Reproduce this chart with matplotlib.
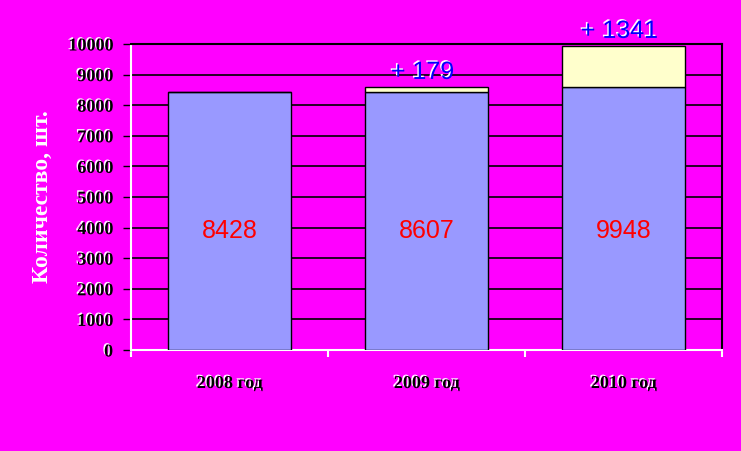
import matplotlib
matplotlib.use('Agg')
import matplotlib.pyplot as plt
import matplotlib.patheffects as pe
import numpy as np

# данные
years = ["2008 год", "2009 год", "2010 год"]
base = [8428, 8428, 8607]
added = [0, 179, 1341]
totals = [8428, 8607, 9948]
added_labels = ["", "+ 179", "+ 1341"]
yticks = [0, 1000, 2000, 3000, 4000, 5000, 6000, 7000, 8000, 9000, 10000]

bg = '#FF00FF'
fig = plt.figure(figsize=(7.41, 4.51), dpi=100, facecolor=bg)
ax = fig.add_axes([131 / 741, 101 / 451, 591 / 741, 306 / 451], facecolor=bg)

x = np.arange(len(years))
ax.bar(x, base, width=0.625, color='#9999FF', edgecolor='black', linewidth=1, zorder=3)
ax.bar(x, added, width=0.625, bottom=base, color='#FFFFCC', edgecolor='black',
       linewidth=1, zorder=3)

ax.set_xlim(-0.5, 2.5)
ax.set_ylim(0, 10000)
ax.set_yticks(yticks)
ax.yaxis.grid(True, color='black', linewidth=1.2, zorder=1)

shadow = [pe.withSimplePatchShadow(offset=(-1, 1), shadow_rgbFace='white', alpha=1.0)]

# подписи в столбцах
for i, v in enumerate(totals):
    ax.text(i, 3900, str(v), ha='center', va='center', color='#FF0000',
            fontsize=18, family='Liberation Sans', zorder=5)
for i, s in enumerate(added_labels):
    if s:
        ax.text(i - 0.02, totals[i] + 480, s, ha='center', va='center', color='#0000FF',
                fontsize=18, family='Liberation Sans', zorder=5, path_effects=shadow)

ax.set_xticks(x)
ax.set_xticklabels(years)
ax.set_xticks([-0.5, 0.5, 1.5, 2.5], minor=True)
ax.tick_params(axis='x', which='major', length=0, pad=18)
ax.tick_params(axis='x', which='minor', length=5, color='white', width=1.5)
ax.tick_params(axis='y', length=6, color='black', width=1, pad=7)

for lab in ax.get_xticklabels() + ax.get_yticklabels():
    lab.set_family('Liberation Serif')
    lab.set_fontweight('bold')
    lab.set_fontsize(13)
    lab.set_color('black')
    lab.set_path_effects(shadow)

for side in ['left', 'bottom']:
    ax.spines[side].set_color('white')
    ax.spines[side].set_linewidth(1.5)
for side in ['top', 'right']:
    ax.spines[side].set_color('black')
    ax.spines[side].set_linewidth(1.5)

fig.text(42 / 741, 1 - 197 / 451, "Количество, шт.", rotation=90, ha='center', va='center',
         color='white', fontsize=17, fontweight='bold', family='Liberation Serif')

fig.savefig('out.png', dpi=100, facecolor=bg)
